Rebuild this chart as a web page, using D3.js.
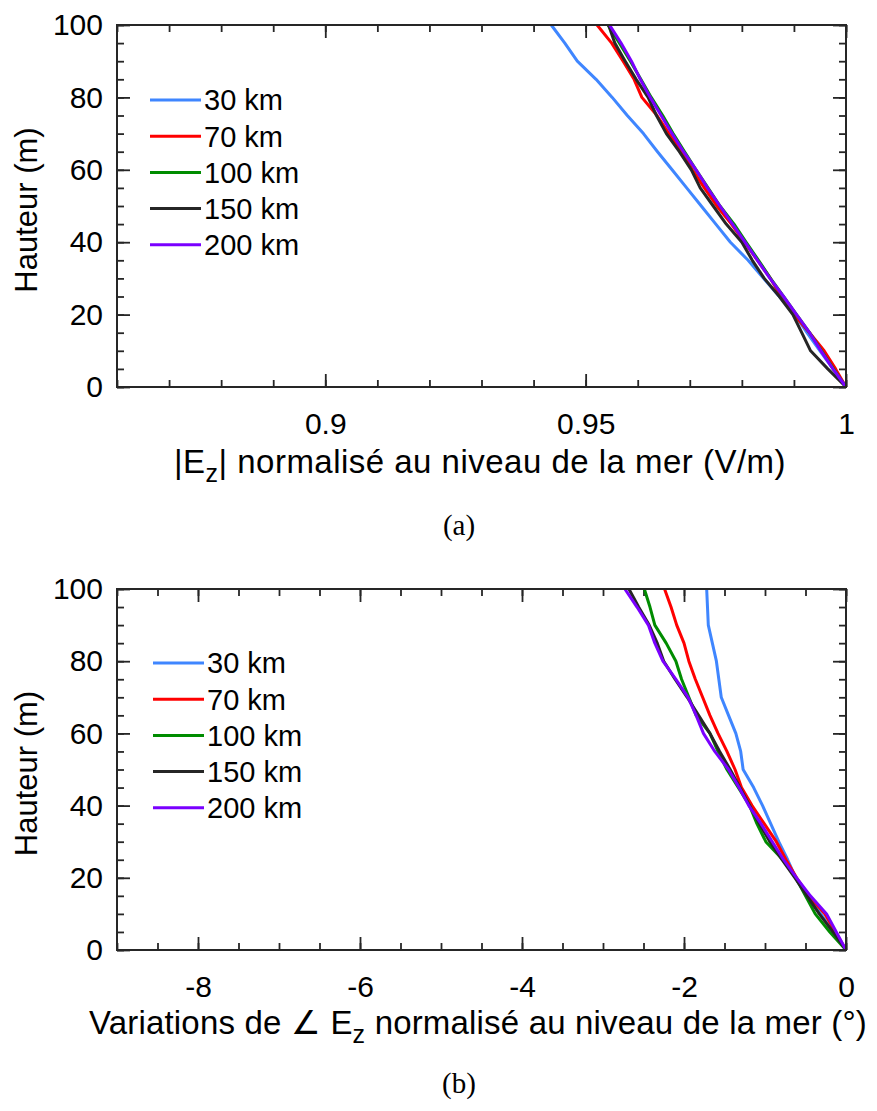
<!DOCTYPE html>
<html>
<head>
<meta charset="utf-8">
<script src="https://cdn.jsdelivr.net/npm/d3@7"></script>
<style>
  html, body { margin: 0; padding: 0; background: #fff; }
</style>
</head>
<body>
<svg id="chart" width="877" height="1111" font-family="Liberation Sans, Arial, sans-serif"></svg>
<script>
// ---------- DATA ----------
const heights = [0, 5, 10, 15, 20, 25, 30, 35, 40, 45, 50, 55, 60, 65, 70, 75, 80, 85, 90, 95, 100];
const seriesNames = ["30 km", "70 km", "100 km", "150 km", "200 km"];
const seriesColors = ["#3f86ff", "#ff0000", "#008c00", "#262626", "#7a00ff"];

// (a) |Ez| normalised at sea level
const magA30  = [1, 0.9975, 0.995, 0.9925, 0.9902, 0.9872, 0.9842, 0.9812, 0.9778, 0.975, 0.9722, 0.9694, 0.9666, 0.9638, 0.9611, 0.958, 0.9551, 0.952, 0.9484, 0.946, 0.9434];
const magA70  = [1, 0.998, 0.9958, 0.993, 0.99, 0.9875, 0.9855, 0.983, 0.9805, 0.978, 0.9752, 0.9728, 0.9705, 0.9685, 0.966, 0.9637, 0.9608, 0.9593, 0.9572, 0.955, 0.9522];
const magA100 = [1, 0.9976, 0.9953, 0.993, 0.9905, 0.988, 0.9855, 0.9832, 0.9808, 0.9785, 0.9758, 0.9735, 0.9712, 0.969, 0.9668, 0.9648, 0.9626, 0.9606, 0.9586, 0.9565, 0.9543];
const magA150 = [1, 0.9965, 0.9932, 0.9915, 0.9898, 0.9872, 0.9843, 0.982, 0.98, 0.977, 0.9745, 0.972, 0.9703, 0.968, 0.9655, 0.9636, 0.962, 0.9597, 0.9576, 0.9556, 0.9544];
const magA200 = [1, 0.9975, 0.9952, 0.993, 0.9905, 0.988, 0.9854, 0.983, 0.9806, 0.9782, 0.9758, 0.9734, 0.9712, 0.9688, 0.9666, 0.9645, 0.9624, 0.9605, 0.9588, 0.9568, 0.9546];

// (b) phase variations (degrees)
const phB30  = [0, -0.16, -0.31, -0.48, -0.62, -0.72, -0.83, -0.93, -1.03, -1.14, -1.27, -1.30, -1.36, -1.45, -1.54, -1.57, -1.60, -1.65, -1.70, -1.71, -1.72];
const phB70  = [0, -0.13, -0.26, -0.46, -0.61, -0.74, -0.86, -1.01, -1.16, -1.29, -1.37, -1.47, -1.58, -1.68, -1.77, -1.86, -1.94, -2.00, -2.09, -2.16, -2.24];
const phB100 = [0, -0.20, -0.38, -0.50, -0.62, -0.78, -0.99, -1.10, -1.19, -1.33, -1.47, -1.58, -1.68, -1.85, -1.94, -2.03, -2.10, -2.22, -2.36, -2.42, -2.49];
const phB150 = [0, -0.16, -0.33, -0.48, -0.63, -0.79, -0.94, -1.07, -1.19, -1.31, -1.43, -1.56, -1.68, -1.82, -1.96, -2.11, -2.25, -2.33, -2.43, -2.56, -2.68];
const phB200 = [0, -0.12, -0.24, -0.44, -0.61, -0.77, -0.91, -1.05, -1.20, -1.32, -1.45, -1.62, -1.76, -1.85, -1.95, -2.10, -2.26, -2.36, -2.44, -2.58, -2.73];

const xTicksA = [0.9, 0.95, 1];
const xTicksB = [-8, -6, -4, -2, 0];
const yTicks = [0, 20, 40, 60, 80, 100];

// ---------- DRAW ----------
const svg = d3.select("#chart");
const FONT = 30;
const SANS = "Liberation Sans, Arial, sans-serif";

function panel(cfg) {
  const g = svg.append("g");
  const x = d3.scaleLinear().domain(cfg.xDomain).range([cfg.left, cfg.right]);
  const y = d3.scaleLinear().domain([0, 100]).range([cfg.bottom, cfg.top]);
  const frameColor = "#262626";
  const MAJ = -13, MIN = -7;

  const minorX = d3.range(cfg.xDomain[0], cfg.xDomain[1] + cfg.xMinor / 2, cfg.xMinor);
  const minorY = d3.range(0, 100.001, 5);

  function styleAxis(sel) {
    sel.select(".domain").remove();
    sel.selectAll("line").attr("stroke", frameColor).attr("stroke-width", 1.8);
    sel.selectAll("text").attr("font-size", FONT).attr("font-family", SANS).attr("fill", "#000");
  }

  g.append("g").attr("transform", `translate(0,${cfg.bottom})`)
    .call(d3.axisBottom(x).tickValues(minorX).tickSize(MIN).tickFormat("")).call(styleAxis);
  g.append("g").attr("transform", `translate(0,${cfg.top})`)
    .call(d3.axisTop(x).tickValues(minorX).tickSize(MIN).tickFormat("")).call(styleAxis);
  g.append("g").attr("transform", `translate(${cfg.left},0)`)
    .call(d3.axisLeft(y).tickValues(minorY).tickSize(MIN).tickFormat("")).call(styleAxis);
  g.append("g").attr("transform", `translate(${cfg.right},0)`)
    .call(d3.axisRight(y).tickValues(minorY).tickSize(MIN).tickFormat("")).call(styleAxis);

  g.append("g").attr("transform", `translate(0,${cfg.bottom})`)
    .call(d3.axisBottom(x).tickValues(cfg.xTicks).tickSize(MAJ).tickPadding(26)
      .tickFormat(cfg.xFormat)).call(styleAxis);
  g.append("g").attr("transform", `translate(0,${cfg.top})`)
    .call(d3.axisTop(x).tickValues(cfg.xTicks).tickSize(MAJ).tickFormat("")).call(styleAxis);
  g.append("g").attr("transform", `translate(${cfg.left},0)`)
    .call(d3.axisLeft(y).tickValues(yTicks).tickSize(MAJ).tickPadding(14)).call(styleAxis);
  g.append("g").attr("transform", `translate(${cfg.right},0)`)
    .call(d3.axisRight(y).tickValues(yTicks).tickSize(MAJ).tickFormat("")).call(styleAxis);

  const line = d3.line().x(d => x(d[0])).y(d => y(d[1]));
  cfg.series.forEach((vals, i) => {
    g.append("path")
      .datum(vals.map((v, k) => [v, heights[k]]))
      .attr("d", line)
      .attr("fill", "none")
      .attr("stroke", seriesColors[i])
      .attr("stroke-width", 3)
      .attr("stroke-linejoin", "round");
  });

  g.append("rect").attr("x", cfg.left).attr("y", cfg.top)
    .attr("width", cfg.right - cfg.left).attr("height", cfg.bottom - cfg.top)
    .attr("fill", "none").attr("stroke", frameColor).attr("stroke-width", 2);

  seriesNames.forEach((name, i) => {
    const ly = cfg.legendY + i * 36.2;
    g.append("line").attr("x1", cfg.legendX).attr("x2", cfg.legendX + 51)
      .attr("y1", ly).attr("y2", ly)
      .attr("stroke", seriesColors[i]).attr("stroke-width", 3);
    g.append("text").attr("x", cfg.legendX + 54).attr("y", ly).attr("dy", "0.36em")
      .attr("font-size", 29).text(name);
  });

  g.append("text")
    .attr("transform", `translate(${cfg.left - 80},${(cfg.top + cfg.bottom) / 2 + 4}) rotate(-90)`)
    .attr("text-anchor", "middle").attr("font-size", 31).text("Hauteur (m)");

  return { g, x, y };
}

panel({
  left: 117, right: 846, top: 25, bottom: 387,
  xDomain: [0.86, 1], xMinor: 0.01, xTicks: xTicksA, xFormat: d3.format(""),
  series: [magA30, magA70, magA100, magA150, magA200],
  legendX: 150, legendY: 100
});
panel({
  left: 117, right: 846, top: 589, bottom: 950,
  xDomain: [-9, 0], xMinor: 0.5, xTicks: xTicksB, xFormat: d => d3.format("")(d).replace("−", "-"),
  series: [phB30, phB70, phB100, phB150, phB200],
  legendX: 153, legendY: 663
});

function fitWidth(textSel, target) {
  const node = textSel.node();
  const w = node.getComputedTextLength();
  const n = node.textContent.length;
  textSel.attr("letter-spacing", (target - w) / n);
}

const la = svg.append("text").attr("x", 480).attr("y", 473).attr("text-anchor", "middle").attr("font-size", 33);
la.append("tspan").text("|E");
la.append("tspan").attr("font-size", 25).attr("dy", 9).text("z");
la.append("tspan").attr("dy", -9).text("| normalisé au niveau de la mer (V/m)");
fitWidth(la, 612);

const lb = svg.append("text").attr("x", 478).attr("y", 1034).attr("text-anchor", "middle").attr("font-size", 33);
lb.append("tspan").text("Variations de ∠ E");
lb.append("tspan").attr("font-size", 25).attr("dy", 9).text("z");
lb.append("tspan").attr("dy", -9).text(" normalisé au niveau de la mer (°)");
fitWidth(lb, 778);

svg.append("text").attr("x", 459).attr("y", 535).attr("text-anchor", "middle")
  .attr("font-family", "Liberation Serif, DejaVu Serif, serif").attr("font-size", 29).text("(a)");
svg.append("text").attr("x", 459).attr("y", 1093).attr("text-anchor", "middle")
  .attr("font-family", "Liberation Serif, DejaVu Serif, serif").attr("font-size", 29).text("(b)");
</script>
</body>
</html>
